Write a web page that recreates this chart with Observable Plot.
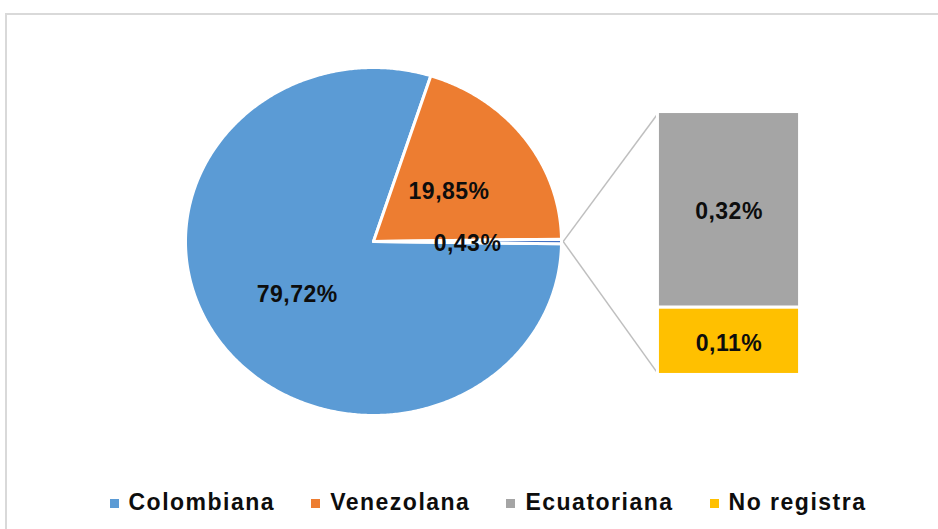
<!DOCTYPE html>
<html>
<head>
<meta charset="utf-8">
<script src="https://cdn.jsdelivr.net/npm/d3@7"></script>
<script src="https://cdn.jsdelivr.net/npm/@observablehq/plot@0.6"></script>
<style>
  html, body { margin: 0; padding: 0; background: #fff; overflow: hidden; width: 938px; height: 529px; }
  #frame { position: absolute; left: 5px; top: 13px; width: 1000px; height: 600px; border: 2px solid #d9d9d9; box-sizing: border-box; }
  #chart { position: absolute; left: 0; top: 0; }
  #legend { position: absolute; left: 88px; width: 800px; top: 489px; display: flex; justify-content: center; gap: 36px;
    font-family: "Liberation Sans", Arial, sans-serif; font-weight: bold; font-size: 23px; letter-spacing: 1.5px; color: #0d0d0d; }
  .item { display: flex; align-items: center; }
  .sw { width: 9px; height: 9px; margin-right: 10px; margin-top: 2px; }
</style>
</head>
<body>
<div id="frame"></div>
<div id="chart"></div>
<div id="legend"></div>
<script>
// ---- Data ----
const categories = ["Colombiana", "Venezolana", "Ecuatoriana", "No registra"];
const colors = ["#5B9BD5", "#ED7D31", "#A5A5A5", "#FFC000"];
const pieSlices = ["Colombiana", "Venezolana", "Otros"];
const pieValues = [79.72, 19.85, 0.43];
const pieLabels = ["79,72%", "19,85%", "0,43%"];
const barCategories = ["Ecuatoriana", "No registra"];
const barValues = [0.32, 0.11];
const barLabels = ["0,32%", "0,11%"];
const otherColor = "#4472C4";

// ---- Layout constants (units: pie radius = 1) ----
const barX0 = 1.513, barX1 = 2.269, barTop = 0.744, barBottom = -0.767;
const labelRadius = 0.5;

// Pie geometry: "Otros" slice centred at 3 o'clock, slices go clockwise
const total = d3.sum(pieValues);
const toAngle = v => v / total * 2 * Math.PI;
const otherIdx = pieSlices.indexOf("Otros");
let start = Math.PI / 2 + toAngle(pieValues[otherIdx]) / 2;
const arcs = pieSlices.map((s, i) => {
  const a0 = start, a1 = start + toAngle(pieValues[i]);
  start = a1;
  return {slice: s, a0, a1, label: pieLabels[i]};
});
const piePts = [];
for (const a of arcs) {
  piePts.push({slice: a.slice, x: 0, y: 0});
  const n = Math.max(2, Math.ceil((a.a1 - a.a0) / (Math.PI / 360)));
  for (let k = 0; k <= n; k++) {
    const t = a.a0 + (a.a1 - a.a0) * k / n;
    piePts.push({slice: a.slice, x: Math.sin(t), y: Math.cos(t)});
  }
}
const pieText = arcs.map(a => {
  const m = (a.a0 + a.a1) / 2;
  return {label: a.label, x: labelRadius * Math.sin(m), y: labelRadius * Math.cos(m)};
});

// Bar of pie (stacked, top to bottom)
const k = (barTop - barBottom) / d3.sum(barValues);
let yc = barTop;
const barRects = barCategories.map((c, i) => {
  const y1 = yc, y2 = yc - barValues[i] * k;
  yc = y2;
  return {cat: c, y1, y2, label: barLabels[i], ym: (y1 + y2) / 2};
});

// Connector lines from the "Otros" slice to the bar
const oth = arcs[otherIdx];
const links = [
  {x1: Math.sin(oth.a1), y1: Math.cos(oth.a1), x2: barX0, y2: barTop - 0.008},
  {x1: Math.sin(oth.a0), y1: Math.cos(oth.a0), x2: barX0, y2: barBottom + 0.008}
];

const font = "'Liberation Sans', Arial, sans-serif";
const plot = Plot.plot({
  width: 938,
  height: 480,
  margin: 0,
  x: {domain: [-1, 1], range: [185, 561], axis: null},
  y: {domain: [-1, 1], range: [415, 67], axis: null},
  color: {domain: [...categories, "Otros"], range: [...colors, otherColor]},
  style: {fontFamily: font, background: "transparent"},
  marks: [
    Plot.link(links, {x1: "x1", y1: "y1", x2: "x2", y2: "y2", stroke: "#bfbfbf", strokeWidth: 1.5}),
    Plot.line(piePts, {x: "x", y: "y", z: "slice", fill: "slice", stroke: "white", strokeWidth: 3, strokeLinejoin: "round", curve: "linear-closed"}),
    Plot.rect(barRects, {x1: barX0, x2: barX1, y1: "y1", y2: "y2", fill: "cat", stroke: "white", strokeWidth: 3}),
    Plot.text(pieText, {x: "x", y: "y", text: "label", fontSize: 23, fontWeight: "bold", fill: "#0d0d0d", dy: 2, letterSpacing: 0.5}),
    Plot.text(barRects, {x: (barX0 + barX1) / 2, y: "ym", text: "label", fontSize: 23, fontWeight: "bold", fill: "#0d0d0d", dy: 2})
  ]
});
plot.querySelectorAll("text").forEach(t => t.setAttribute("letter-spacing", "0.5"));
document.getElementById("chart").appendChild(plot);

const legend = document.getElementById("legend");
categories.forEach((c, i) => {
  const it = document.createElement("div");
  it.className = "item";
  const sw = document.createElement("span");
  sw.className = "sw";
  sw.style.background = colors[i];
  const tx = document.createElement("span");
  tx.textContent = c;
  it.appendChild(sw); it.appendChild(tx);
  legend.appendChild(it);
});
</script>
</body>
</html>
